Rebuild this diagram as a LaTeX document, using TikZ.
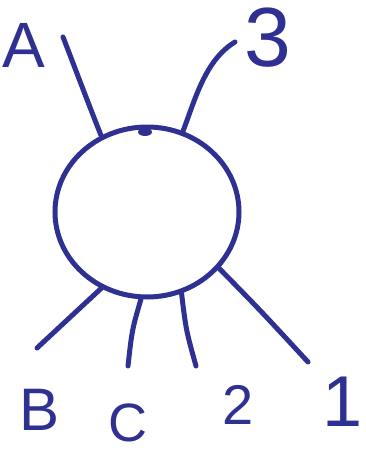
\documentclass[tikz,border=0pt]{standalone}
\usepackage{fontspec}
\setmainfont{Liberation Sans}
\usetikzlibrary{shapes.geometric}
\definecolor{ink}{HTML}{2E3192}
\tikzset{
  leg/.style={draw=ink, line width=5pt, line cap=round, line join=round},
  lbl/.style={text=ink, inner sep=0pt},
}
\begin{document}
\begin{tikzpicture}[x=1pt,y=-1pt]
\useasboundingbox (0,0) rectangle (366,453);
\fill[white] (0,0) rectangle (366,453);
\node[ellipse, draw=ink, line width=5pt, minimum width=184pt, minimum height=170pt, inner sep=0pt] (c) at (147,212) {};
\fill[ink] (145,132) ellipse (7pt and 4pt);
% leg ends
\coordinate (eA) at (63,37);
\coordinate (e3) at (235,42);
\coordinate (eB) at (37,348);
\coordinate (eC) at (128,366);
\coordinate (e2) at (196,366);
\coordinate (e1) at (308,362);
\draw[leg] (c.121) .. controls (85,95) and (72,60) .. (eA);
\draw[leg] (c.66) .. controls (195,100) and (205,60) .. (e3);
\draw[leg] (c.239) -- (eB);
\draw[leg] (c.266) .. controls (132,330) .. (eC);
\draw[leg] (c.293) .. controls (186,330) .. (e2);
\draw[leg] (c.322) .. controls (260,310) .. (e1);
% labels
\node[lbl, font=\fontsize{64}{64}\selectfont] (lA) at (24,45) {A};
\node[lbl, font=\fontsize{84}{84}\selectfont] (l3) at (268,38) {3};
\node[lbl, font=\fontsize{60}{60}\selectfont] (lB) at (40,410) {B};
\node[lbl, font=\fontsize{54}{54}\selectfont] (lC) at (128,423) {C};
\node[lbl, font=\fontsize{56}{56}\selectfont] (l2) at (238,405) {2};
\node[lbl, font=\fontsize{72}{72}\selectfont] (l1) at (343,402) {1};
\end{tikzpicture}
\end{document}
